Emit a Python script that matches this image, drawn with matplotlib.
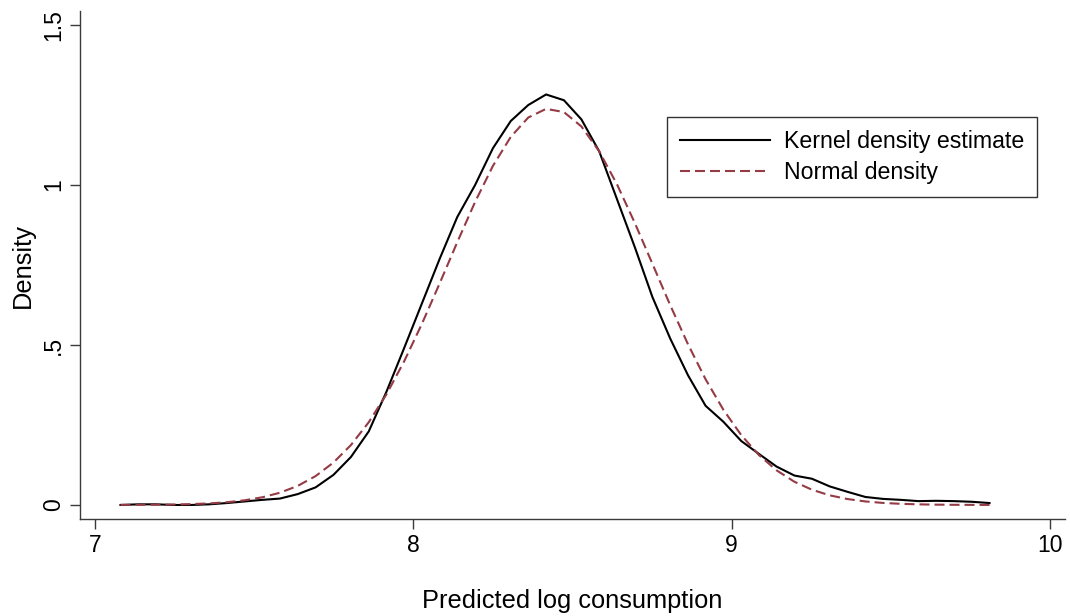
"""Kernel density of predicted log consumption with a normal overlay (Stata style)."""

import matplotlib

matplotlib.use("Agg")
import matplotlib.pyplot as plt

# Evaluation grid (50 points, as kdensity uses) and density values
grid_x = [
    7.080, 7.136, 7.191, 7.247, 7.303, 7.359, 7.414, 7.470, 7.526, 7.581,
    7.637, 7.693, 7.749, 7.804, 7.860, 7.916, 7.971, 8.027, 8.083, 8.138,
    8.194, 8.250, 8.306, 8.361, 8.417, 8.473, 8.528, 8.584, 8.640, 8.696,
    8.751, 8.807, 8.863, 8.918, 8.974, 9.030, 9.085, 9.141, 9.197, 9.252,
    9.308, 9.364, 9.420, 9.475, 9.531, 9.587, 9.642, 9.698, 9.754, 9.810,
]
kernel_density = [
    0.000, 0.002, 0.002, 0.000, 0.000, 0.002, 0.006, 0.011, 0.016, 0.020,
    0.034, 0.055, 0.094, 0.150, 0.230, 0.355, 0.490, 0.630, 0.770, 0.900,
    1.000, 1.115, 1.200, 1.250, 1.283, 1.265, 1.205, 1.105, 0.955, 0.805,
    0.650, 0.520, 0.405, 0.310, 0.260, 0.200, 0.160, 0.120, 0.092, 0.082,
    0.058, 0.041, 0.025, 0.019, 0.016, 0.012, 0.013, 0.012, 0.010, 0.006,
]
normal_density = [
    0.0002, 0.0004, 0.0008, 0.0015, 0.0027, 0.0049, 0.0085, 0.0146, 0.0241, 0.0383,
    0.0597, 0.0903, 0.1325, 0.1873, 0.2587, 0.3466, 0.4486, 0.5662, 0.6933, 0.8213,
    0.9471, 1.0598, 1.1504, 1.2109, 1.2380, 1.2280, 1.1830, 1.1051, 1.0017, 0.8808,
    0.7539, 0.6243, 0.5018, 0.3930, 0.2975, 0.2185, 0.1566, 0.1083, 0.0726, 0.0477,
    0.0301, 0.0185, 0.0110, 0.0064, 0.0036, 0.0019, 0.0010, 0.0005, 0.0003, 0.0001,
]

x_ticks = [7, 8, 9, 10]
x_tick_labels = ["7", "8", "9", "10"]
y_ticks = [0, 0.5, 1, 1.5]
y_tick_labels = ["0", ".5", "1", "1.5"]

MAROON = "#953b45"
AXIS_GREY = "#3a3a3a"

plt.rcParams["font.family"] = ["Liberation Sans", "DejaVu Sans"]

fig = plt.figure(figsize=(10.70, 6.16), dpi=100)
fig.patch.set_facecolor("white")
ax = fig.add_axes([0.0748, 0.1575, 0.9205, 0.8246])

ax.plot(grid_x, kernel_density, color="black", lw=1.5, label="Kernel density estimate",
        solid_joinstyle="miter")
ax.plot(grid_x, normal_density, color=MAROON, lw=1.5, dashes=(4.8, 2.4),
        label="Normal density")

ax.set_xlim(6.953, 10.047)
ax.set_ylim(-0.0438, 1.5438)

ax.set_xticks(x_ticks)
ax.set_xticklabels(x_tick_labels)
ax.set_yticks(y_ticks)
ax.set_yticklabels(y_tick_labels, rotation=90, va="center")

ax.tick_params(axis="both", direction="out", length=7, width=1.0, color=AXIS_GREY,
               labelsize=16.5, pad=4)
for side in ("top", "right"):
    ax.spines[side].set_visible(False)
for side in ("left", "bottom"):
    ax.spines[side].set_color(AXIS_GREY)
    ax.spines[side].set_linewidth(1.0)

ax.set_xlabel("Predicted log consumption", fontsize=18.3, labelpad=23)
ax.set_ylabel("Density", fontsize=18.3, labelpad=5)

leg = ax.legend(loc="upper left", bbox_to_anchor=(0.596, 0.7913), borderaxespad=0,
                fontsize=16.7, handlelength=3.9, handletextpad=0.6, borderpad=0.55,
                labelspacing=0.36, frameon=True, fancybox=False)
leg.get_frame().set_edgecolor("black")
leg.get_frame().set_linewidth(1.0)

fig.savefig("out.png", dpi=100, facecolor="white")
